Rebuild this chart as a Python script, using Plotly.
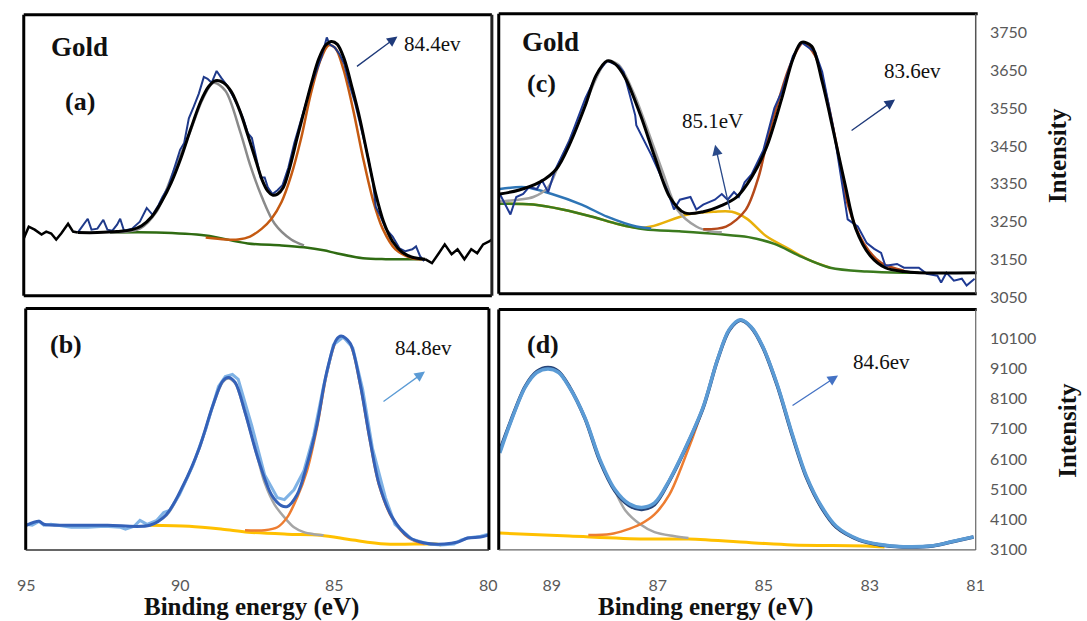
import plotly.graph_objects as go

W, H = 1087, 621

# ---------------- (a) Gold, Au 4f (intensity in a.u.) ----------------
a_raw_be = [93.27, 93.11, 92.95, 92.83, 92.64, 92.45, 92.32, 92.16, 92.01, 91.91, 91.79, 91.53,
            91.28, 91.06, 90.87, 90.68, 90.56, 90.37, 90.18, 89.99, 89.86, 89.71, 89.55, 89.39,
            89.23, 89.11, 88.98, 88.82, 88.67, 88.48, 88.29, 88.13, 87.97, 87.82, 87.69, 87.53,
            87.41, 87.28, 87.18, 87.03, 86.87, 86.71, 86.52, 86.33, 86.14, 85.96, 85.77, 85.61,
            85.45, 85.29, 85.20, 85.04, 84.88, 84.73, 84.57, 84.38, 84.19, 84.00, 83.81, 83.72,
            83.56, 83.40, 83.18, 82.96, 82.77, 82.55, 82.43, 82.30, 82.17]
a_raw = [64, 71, 78, 67, 68, 77, 67, 66, 72, 78, 66, 68,
         75, 89, 82, 92, 100, 110, 128, 148, 155, 180, 192, 205,
         222, 220, 216, 228, 221, 213, 202, 192, 180, 165, 160, 135,
         120, 120, 110, 103, 107, 112, 130, 155, 177, 195, 215, 230,
         243, 262, 255, 252, 245, 235, 215, 195, 170, 145, 115, 90,
         80, 68, 60, 48, 45, 47, 50, 40, 35]

a_fit_be = [93.27, 92.64, 92.01, 91.53, 91.22, 90.90, 90.59, 90.27, 89.96, 89.64, 89.33, 89.08,
            88.86, 88.60, 88.35, 88.07, 87.82, 87.59, 87.37, 87.18, 87.03, 86.87, 86.68, 86.46,
            86.24, 86.02, 85.77, 85.55, 85.33, 85.14, 84.95, 84.73, 84.47, 84.22, 83.97, 83.72,
            83.47, 83.18, 82.87, 82.55, 82.14]
a_fit = [64, 64, 65, 67, 71, 80, 95, 115, 140, 170, 197, 212,
         218, 216, 207, 187, 163, 140, 118, 106, 102, 103, 110, 132,
         160, 187, 217, 240, 254, 258, 255, 240, 210, 178, 140, 103,
         75, 55, 44, 39, 37]

# raw counts outside the fitting window (left and right tails)
a_tail_be = [95.00, 94.84, 94.65, 94.43, 94.28, 94.12, 93.96, 93.80, 93.58, 93.42, 93.27, None,
             82.14, 81.92, 81.70, 81.51, 81.29, 81.10, 80.88, 80.66, 80.47, 80.28, 80.09, 80.00]
a_tail = [58, 70, 67, 62, 65, 63, 57, 63, 73, 65, 64, None,
          37, 33, 43, 52, 42, 47, 37, 47, 43, 52, 55, 57]

a_p52_be = [92.23, 91.28, 90.75, 90.21, 89.71, 89.26, 88.92, 88.54, 88.07, 87.75, 87.37, 86.96, 86.43, 86.02]
a_p52 = [64, 68, 85, 125, 163, 200, 216, 208, 167, 133, 100, 73, 57, 51]

a_p72_be = [89.17, 88.54, 88.13, 87.75, 87.37, 87.06, 86.74, 86.43, 86.11, 85.80, 85.48, 85.23,
            85.01, 84.76, 84.44, 84.13, 83.81, 83.50, 83.09, 82.55, 82.14]
a_p72 = [59, 57, 57, 60, 68, 78, 95, 122, 160, 205, 240, 254,
         251, 230, 188, 140, 97, 68, 47, 38, 37]

a_bg_be = [92.23, 90.75, 89.17, 87.82, 86.74, 86.02, 85.39, 84.98, 84.13, 83.40, 82.14]
a_bg = [64, 64, 61, 53, 51, 49, 46, 43, 38, 37, 37]

# ---------------- (b) Au 4f (intensity in a.u.) ----------------
b_raw_be = [95.00, 94.81, 94.59, 94.43, 94.20, 93.95, 93.54, 93.00, 92.45, 91.94, 91.78, 91.50,
            91.31, 91.08, 90.76, 90.54, 90.35, 90.03, 89.59, 89.17, 88.76, 88.54, 88.31, 88.12,
            87.68, 87.26, 86.85, 86.62, 86.31, 85.99, 85.67, 85.35, 85.03, 84.71, 84.40, 84.08,
            83.76, 83.34, 83.03, 82.48, 81.94, 81.53, 81.11, 80.89, 80.67, 80.25, 80.00]
b_raw = [26, 25, 29, 25, 26, 25, 23, 23, 24, 23, 21, 24,
         30, 26, 30, 38, 40, 56, 86, 123, 166, 176, 178, 173,
         126, 76, 53, 51, 61, 80, 116, 166, 208, 216, 205, 163,
         103, 53, 26, 11, 6, 5, 6, 10, 12, 14, 16]

b_fit_be = [95.00, 94.59, 94.43, 93.63, 92.36, 90.99, 90.45, 89.90, 89.39, 88.95, 88.63, 88.44,
            88.22, 87.90, 87.48, 87.04, 86.72, 86.53, 86.21, 85.89, 85.57, 85.25, 84.94, 84.78,
            84.49, 84.17, 83.85, 83.54, 83.12, 82.58, 82.07, 81.43, 80.99, 80.67, 80.25, 80.00]
b_fit = [25, 29, 26, 25, 25, 25, 36, 66, 103, 146, 171, 175,
         170, 140, 93, 56, 45, 44, 56, 86, 126, 180, 213, 217,
         210, 170, 113, 66, 33, 13, 7, 6, 8, 12, 13, 15]

b_p52_be = [90.99, 90.45, 89.90, 89.39, 88.95, 88.63, 88.44, 88.22, 87.90, 87.48, 87.26, 86.94,
            86.62, 86.31, 85.99, 85.67, 85.35]
b_p52 = [25, 35, 65, 102, 145, 170, 174, 169, 139, 92, 68, 46, 33, 23, 18, 16, 15]

b_p72_be = [87.90, 87.26, 86.85, 86.53, 86.21, 85.89, 85.57, 85.25, 84.94, 84.78, 84.49, 84.17,
            83.85, 83.54, 83.12, 82.58, 82.07]
b_p72 = [20, 20, 23, 33, 53, 80, 123, 178, 212, 216, 209, 169, 112, 65, 32, 12, 6]

b_bg_be = [90.99, 89.71, 88.63, 87.80, 86.53, 85.45, 84.40, 83.34, 81.75, 81.53]
b_bg = [25, 24, 21, 18, 16, 15, 10, 6, 6, 5]

# ---------------- (c) Gold, Au 4f (counts) ----------------
c_raw_be = [89.98, 89.78, 89.67, 89.54, 89.43, 89.28, 89.19, 89.07, 88.94, 88.67, 88.37, 88.13,
            87.96, 87.74, 87.65, 87.43, 87.41, 87.13, 86.83, 86.70, 86.59, 86.39, 86.28, 86.15,
            85.93, 85.80, 85.69, 85.57, 85.48, 85.37, 85.24, 85.02, 84.81, 84.67, 84.46, 84.30,
            84.04, 83.91, 83.70, 83.43, 83.24, 83.07, 82.93, 82.80, 82.72, 82.50, 82.37, 82.09,
            81.94, 81.74, 81.67, 81.57, 81.43, 81.28, 81.19, 81.04]
c_raw = [3323, 3269, 3315, 3323, 3341, 3336, 3360, 3328, 3386, 3464, 3576, 3646,
         3675, 3662, 3646, 3531, 3505, 3427, 3334, 3282, 3308, 3315, 3282, 3295,
         3308, 3323, 3308, 3328, 3315, 3354, 3375, 3438, 3550, 3594, 3688, 3724,
         3698, 3646, 3498, 3256, 3237, 3193, 3178, 3167, 3133, 3138, 3128, 3128,
         3112, 3107, 3089, 3115, 3094, 3099, 3081, 3099]

c_fit_be = [89.98, 89.63, 89.22, 88.91, 88.67, 88.37, 88.17, 87.96, 87.81, 87.61, 87.33, 87.06,
            86.78, 86.50, 86.15, 85.80, 85.52, 85.24, 84.96, 84.67, 84.46, 84.30, 84.11, 83.91,
            83.70, 83.48, 83.28, 83.00, 82.72, 82.37, 82.09, 81.00]
c_fit = [3323, 3333, 3355, 3390, 3453, 3557, 3636, 3675, 3667, 3628, 3531, 3420,
         3315, 3273, 3276, 3293, 3315, 3367, 3446, 3576, 3680, 3724, 3714, 3620,
         3490, 3349, 3232, 3159, 3128, 3118, 3115, 3115]

c_p52_be = [89.98, 89.63, 89.35, 89.07, 88.87, 88.59, 88.31, 88.04, 87.93, 87.74, 87.46, 87.19,
            86.91, 86.63, 86.28, 86.00, 85.80]
c_p52 = [3303, 3308, 3315, 3341, 3401, 3490, 3583, 3662, 3675, 3664, 3590, 3490,
         3380, 3280, 3237, 3224, 3222]

c_p72_be = [86.15, 85.72, 85.35, 85.11, 84.93, 84.72, 84.54, 84.35, 84.26, 84.04, 83.83, 83.63,
            83.43, 83.13, 82.80, 82.37]
c_p72 = [3230, 3237, 3281, 3367, 3472, 3576, 3654, 3711, 3724, 3688, 3583, 3446,
         3297, 3193, 3141, 3120]

c_p851_be = [89.98, 89.35, 88.80, 88.24, 87.74, 87.41, 87.13, 86.44, 85.94, 85.61, 85.33, 84.96,
             84.54, 84.19, 83.76]
c_p851 = [3297, 3295, 3282, 3263, 3243, 3234, 3237, 3269, 3276, 3276, 3258, 3211,
          3178, 3151, 3128]

c_bgl_be = [89.98, 89.50, 89.00, 88.44, 87.96, 87.41, 87.13]
c_bgl = [3336, 3341, 3323, 3295, 3263, 3237, 3232]

c_bg_be = [89.98, 89.35, 88.80, 88.24, 87.74, 87.26, 86.56, 85.87, 85.30, 84.81, 84.33, 83.76,
           83.07, 82.37, 82.09]
c_bg = [3297, 3295, 3282, 3263, 3243, 3230, 3224, 3217, 3209, 3191, 3159, 3128,
        3118, 3115, 3115]

# ---------------- (d) Au 4f (counts) ----------------
d_be = [89.98, 89.78, 89.50, 89.28, 89.07, 88.87, 88.67, 88.37, 88.09, 87.81, 87.54, 87.30,
        87.06, 86.78, 86.50, 86.15, 85.87, 85.65, 85.44, 85.24, 85.02, 84.74, 84.46, 84.19,
        83.91, 83.63, 83.20, 82.80, 82.37, 81.81, 81.46, 81.04]
d_fit = [6388, 7332, 8505, 8993, 9123, 8993, 8505, 7430, 6030, 5053, 4565, 4435,
         4597, 5379, 6356, 7756, 9384, 10360, 10686, 10458, 9807, 8505, 6877, 5476,
         4500, 3848, 3425, 3262, 3197, 3230, 3360, 3523]
d_raw = [6300, 7300, 8480, 8960, 9080, 8960, 8480, 7450, 6080, 5100, 4620, 4500,
         4650, 5400, 6380, 7780, 9400, 10380, 10700, 10470, 9830, 8540, 6920, 5520,
         4540, 3880, 3440, 3275, 3205, 3235, 3365, 3530]

d_p52_be = [89.98, 89.78, 89.50, 89.28, 89.07, 88.87, 88.67, 88.37, 88.09, 87.81, 87.61, 87.33,
            87.06, 86.70, 86.42]
d_p52 = [6388, 7332, 8505, 8993, 9123, 8993, 8505, 7430, 6030, 5053, 4402, 3946,
         3686, 3556, 3490]

d_p72_be = [88.31, 87.89, 87.61, 87.33, 87.06, 86.78, 86.56, 86.15, 85.87, 85.65, 85.44, 85.24,
            85.02, 84.74, 84.46, 84.19, 83.91, 83.63, 83.20, 82.80]
d_p72 = [3588, 3621, 3751, 3946, 4272, 4923, 5802, 7756, 9384, 10360, 10686, 10458,
         9807, 8505, 6877, 5476, 4500, 3848, 3425, 3262]

d_bg_be = [89.98, 88.67, 87.26, 86.42, 85.17, 84.46, 83.07, 82.72]
d_bg = [3653, 3555, 3458, 3458, 3328, 3262, 3230, 3197]

# tick values
b_ticks = [95, 90, 85, 80]
d_ticks = [89, 87, 85, 83, 81]
c_yticks = [3050, 3150, 3250, 3350, 3450, 3550, 3650, 3750]
d_yticks = [3100, 4100, 5100, 6100, 7100, 8100, 9100, 10100]

SERIF = "Liberation Serif"
TICKFONT = dict(family="Lato", size=16, color="#595959")

fig = go.Figure()


def add_line(x, y, color, width, axes, shape="spline"):
    xa, ya = axes
    fig.add_trace(go.Scatter(
        x=x, y=y, mode="lines", xaxis=xa, yaxis=ya,
        line=dict(color=color, width=width, shape=shape, smoothing=0.9),
        showlegend=False, hoverinfo="skip"))


A, B, C, D = ("x", "y"), ("x2", "y2"), ("x3", "y3"), ("x4", "y4")

# (a)
add_line(a_bg_be, a_bg, "#2f6b12", 2.5, A)
add_line(a_p52_be, a_p52, "#8a8a8a", 2.5, A)
add_line(a_p72_be, a_p72, "#c55a11", 2.5, A)
add_line(a_raw_be, a_raw, "#1f3a8a", 2, A, "linear")
add_line(a_tail_be, a_tail, "#000000", 2.5, A, "linear")
add_line(a_fit_be, a_fit, "#000000", 3, A)

# (b)
add_line(b_bg_be, b_bg, "#ffc000", 3, B)
add_line(b_p52_be, b_p52, "#a5a5a5", 2.5, B)
add_line(b_p72_be, b_p72, "#ed7d31", 2.5, B)
add_line(b_raw_be, b_raw, "#7fb2e5", 3, B, "linear")
add_line(b_fit_be, b_fit, "#3461b8", 3, B)

# (c)
add_line(c_p851_be, c_p851, "#e8b00a", 2.5, C)
add_line(c_bg_be, c_bg, "#3b7a1e", 2.5, C)
add_line(c_bgl_be, c_bgl, "#2e75b6", 2.5, C)
add_line(c_p52_be, c_p52, "#a0a0a0", 2.5, C)
add_line(c_p72_be, c_p72, "#b5491a", 2.5, C)
add_line(c_raw_be, c_raw, "#1f3a93", 2, C, "linear")
add_line(c_fit_be, c_fit, "#000000", 3, C)

# (d)
add_line(d_bg_be, d_bg, "#ffc000", 3, D)
add_line(d_p52_be, d_p52, "#a5a5a5", 2.5, D)
add_line(d_p72_be, d_p72, "#ed7d31", 2.5, D)
add_line(d_be, d_fit, "#264478", 3.5, D)
add_line(d_be, d_raw, "#5b9bd5", 3.5, D)


def hx(p):
    return p / W


def vy(p):
    return 1 - p / H


hidden = dict(visible=False, showgrid=False, zeroline=False)
base = dict(showgrid=False, zeroline=False, showline=False, ticks="outside",
            tickcolor="rgba(0,0,0,0)", tickfont=TICKFONT)

fig.update_layout(
    width=W, height=H, margin=dict(l=0, r=0, t=0, b=0),
    paper_bgcolor="white", plot_bgcolor="white", showlegend=False,
    xaxis=dict(domain=[hx(15), hx(491)], range=[95, 80], anchor="y", **hidden),
    yaxis=dict(domain=[vy(300), vy(15)], range=[0, 285], anchor="x", **hidden),
    xaxis2=dict(domain=[hx(17), hx(488)], range=[95.02, 79.98], anchor="y2",
                tickvals=b_ticks, ticklen=21, **base),
    yaxis2=dict(domain=[vy(558), vy(313)], range=[0, 245], anchor="x2", **hidden),
    xaxis3=dict(domain=[hx(498), hx(984)], range=[90, 81], anchor="y3", **hidden),
    yaxis3=dict(domain=[vy(302), vy(14)], range=[3049, 3799.5], anchor="x3",
                side="right", tickvals=c_yticks, tickformat="d", ticklen=9, **base),
    xaxis4=dict(domain=[hx(498), hx(984)], range=[90, 80.98], anchor="y4",
                tickvals=d_ticks, ticklen=21, **base),
    yaxis4=dict(domain=[vy(558), vy(314)], range=[3098, 11044], anchor="x4",
                side="right", tickvals=d_yticks, tickformat="d", ticklen=9, **base),
)

# panel frames
frames = [
    # (a)
    (15, 15, 491, 15, "#000", 3), (15, 15, 15, 300, "#000", 3),
    (15, 300, 491, 300, "#000", 3), (491, 15, 491, 300, "#222", 3),
    # (b)
    (17, 313, 488, 313, "#000", 3), (17, 313, 17, 558, "#000", 3),
    (488, 313, 488, 558, "#000", 3), (17, 558, 488, 558, "#333", 1.5),
    # (c)
    (498, 14, 985, 14, "#000", 3), (498, 14, 498, 298, "#000", 3),
    (498, 298, 984, 298, "#000", 3), (983, 14, 983, 298, "#555", 1.5),
    # (d)
    (498, 314, 984, 314, "#000", 3), (498, 314, 498, 558, "#000", 3),
    (983, 314, 983, 558, "#666", 1.2), (498, 558, 983, 558, "#666", 1.2),
]
for x0, y0, x1, y1, col, w in frames:
    fig.add_shape(type="line", xref="paper", yref="paper", layer="above",
                  x0=hx(x0), y0=vy(y0), x1=hx(x1), y1=vy(y1),
                  line=dict(color=col, width=w))


def label(text, cx, cy, size, bold=False, color="#111", angle=0):
    fig.add_annotation(text=f"<b>{text}</b>" if bold else text, xref="paper", yref="paper",
                       x=hx(cx), y=vy(cy), xanchor="center", yanchor="middle",
                       showarrow=False, textangle=angle,
                       font=dict(family=SERIF, size=size, color=color))


def arrow(tail, head, color):
    fig.add_annotation(text="", xref="paper", yref="paper",
                       x=hx(head[0]), y=vy(head[1]), ax=tail[0] - head[0], ay=tail[1] - head[1],
                       showarrow=True, arrowhead=2, arrowsize=1.6, arrowwidth=1.3,
                       arrowcolor=color)


label("Gold", 72, 48, 27, bold=True)
label("(a)", 72, 103, 26, bold=True)
label("84.4ev", 431, 45, 21)
arrow((353, 68), (395, 37), "#1f3a7a")

label("(b)", 58, 350, 26, bold=True)
label("84.8ev", 421, 353, 21)
arrow((380, 408), (423, 377), "#5b9bd5")

label("Gold", 551, 43, 27, bold=True)
label("(c)", 541, 85, 26, bold=True)
label("85.1eV", 715, 123, 21)
arrow((733, 213), (718, 147), "#2a4a8a")
label("83.6ev", 919, 72, 21)
arrow((856, 133), (901, 101), "#1f3a7a")

label("(d)", 543, 350, 26, bold=True)
label("84.6ev", 887, 367, 21)
arrow((796, 412), (843, 381), "#4472c4")

label("Binding energy (eV)", 247, 616, 25, bold=True)
label("Binding energy (eV)", 708, 616, 25, bold=True)
label("Intensity", 1066, 158, 25, bold=True, angle=-90)
label("Intensity", 1076, 437, 25, bold=True, angle=-90)

fig.write_html("out.html")
